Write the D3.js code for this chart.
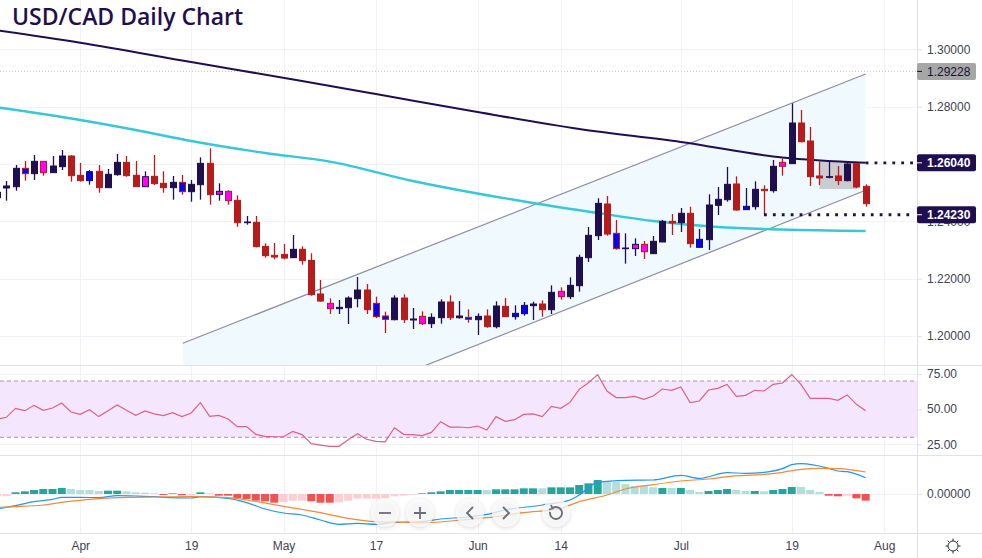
<!DOCTYPE html>
<html>
<head>
<meta charset="utf-8">
<script src="https://d3js.org/d3.v7.min.js"></script>
<style>
  body { margin: 0; background: #fff; overflow: hidden; }
  text { font-family: "Liberation Sans", sans-serif; }
</style>
</head>
<body>
<div id="chart"></div>
<script>
// candles are keyed by trading day, day 0 = 1 Apr
var firstDay = -9, lastDay = 85;

var opens = [1.24825,1.25162,1.25208,1.25848,1.25662,1.26092,1.25697,1.25906,1.26278,1.25604,1.25418,1.25743,1.25174,1.25627,1.26057,1.25604,1.25208,1.25569,1.25325,1.25174,1.25360,1.25034,1.25278,1.26022,1.24941,1.25046,1.24732,1.23953,1.23964,1.23127,1.22813,1.22848,1.22732,1.23023,1.22639,
  1.21465,1.21139,1.20953,1.20988,1.21302,1.21604,1.21139,1.20697,1.20569,1.21325,1.20558,1.20686,1.20430,1.20639,1.21186,1.20639,1.20651,1.20569,1.20697,1.20325,1.21034,1.20674,1.20779,1.21058,1.21116,1.20918,1.21558,1.21372,1.21755,1.22732,1.23499,1.24604,1.23581,1.23046,1.23046,1.23197,
  1.22872,1.23279,1.24000,1.23953,1.24279,1.23093,1.23360,1.24558,1.24755,1.25302,1.24407,1.24511,1.25116,1.25069,1.26058,1.26011,1.27429,1.26802,1.25581,1.25534,1.25581,1.25418,1.26011,1.25220];
var closes = [1.25011,1.25232,1.25848,1.25662,1.26092,1.25697,1.25929,1.26278,1.25592,1.25418,1.25732,1.25174,1.25639,1.26057,1.25592,1.25208,1.25557,1.25313,1.25174,1.25360,1.25034,1.25290,1.26022,1.24929,1.25046,1.24720,1.23953,1.23976,1.23116,1.22802,1.22755,1.22720,1.23023,1.22627,1.21441,
  1.21220,1.20953,1.20999,1.21325,1.21604,1.20918,1.20674,1.20581,1.21325,1.20569,1.20593,1.20430,1.20651,1.21186,1.20639,1.20697,1.20581,1.20686,1.20325,1.21046,1.20674,1.20790,1.21069,1.21116,1.20918,1.21523,1.21372,1.21767,1.22744,1.23511,1.24627,1.23557,1.23046,1.23069,1.23197,1.22941,
  1.23302,1.24000,1.23941,1.24279,1.23221,1.23372,1.24569,1.24767,1.25290,1.24395,1.24523,1.25116,1.25069,1.25918,1.25918,1.27429,1.26778,1.25558,1.25511,1.25558,1.25418,1.25999,1.25197,1.24616];
var highs = [1.25034,1.25406,1.25964,1.26104,1.26313,1.26104,1.26278,1.26487,1.26313,1.26034,1.25790,1.25964,1.25825,1.26348,1.26278,1.26104,1.25743,1.26313,1.25743,1.25580,1.25615,1.25441,1.26232,1.26546,1.25325,1.25081,1.24906,1.24185,1.24185,1.23232,1.23243,1.23209,1.23522,1.23127,1.22883,
  1.21953,1.21313,1.21255,1.21383,1.22058,1.21813,1.21372,1.20848,1.21418,1.21453,1.20976,1.20860,1.20790,1.21279,1.21418,1.21221,1.20930,1.20790,1.20930,1.21209,1.21325,1.21069,1.21186,1.21197,1.21244,1.21767,1.21697,1.22046,1.22837,1.23802,1.24802,1.24883,1.24046,1.23581,1.23406,1.23313,
  1.23488,1.24046,1.24255,1.24465,1.24511,1.23732,1.24941,1.25197,1.25895,1.25569,1.25162,1.25395,1.25255,1.26139,1.26220,1.28115,1.27883,1.27290,1.26081,1.26081,1.25930,1.26023,1.26023,1.25290];
var lows = [1.24801,1.24720,1.25069,1.25418,1.25441,1.25592,1.25697,1.25790,1.25383,1.25383,1.25278,1.24999,1.25162,1.25592,1.25557,1.25208,1.25208,1.25267,1.24999,1.24755,1.24929,1.24685,1.24755,1.24581,1.24720,1.24581,1.23813,1.23883,1.23092,1.22732,1.22674,1.22674,1.22720,1.22488,1.21406,
  1.21197,1.20767,1.20767,1.20418,1.20999,1.20767,1.20627,1.20104,1.20546,1.20453,1.20244,1.20383,1.20279,1.20430,1.20558,1.20604,1.20465,1.20034,1.20290,1.20267,1.20662,1.20569,1.20709,1.20558,1.20674,1.20767,1.21267,1.21290,1.21546,1.22581,1.23348,1.23499,1.23011,1.22523,1.22790,1.22685,
  1.22860,1.23279,1.23523,1.23627,1.23081,1.23081,1.23000,1.24220,1.24686,1.24372,1.24395,1.24407,1.24230,1.24999,1.25592,1.25999,1.26755,1.25232,1.25267,1.25499,1.25267,1.25395,1.25151,1.24511];
var blueDays = [-6,1,11,32,33,42,47,48,58,67,72];
var magentaDays = [-4,7,15,16,27,37,52,60,61,76];

// moving averages, read at these days only
var ma200Days = [-10,0,12,24,32,43,54,65,76,85];
var ma200 = [1.30708,1.30230,1.29557,1.28894,1.28441,1.27813,1.27220,1.26767,1.26226,1.26040];
var ma100Days = [-10,0,6,12,20,27,36,49,56,62,69,76,85];
var ma100 = [1.28022,1.27534,1.27185,1.26802,1.26383,1.26080,1.25407,1.24639,1.24290,1.24011,1.23802,1.23715,1.23662];

// channel, day then price of both ends
var channelDays = [11.1,85];
var channelUpper = [1.19745,1.29138];
var channelLower = [1.15605,1.25082];

var zoneDays = [80,84];
var zonePrices = [1.26104,1.25127];

var rsi = [42.8,44.2,50.6,48.9,52.7,49.2,50.8,54.4,48.0,46.3,49.6,44.7,48.9,53.0,49.2,45.6,48.7,46.6,45.4,47.5,44.7,47.3,54.6,44.9,45.6,43.0,37.6,37.6,32.1,30.7,30.4,30.4,34.2,31.9,25.5,24.5,23.6,23.6,28.3,32.6,28.6,27.1,26.7,36.8,32.1,31.9,31.2,33.5,41.1,37.3,37.3,36.8,38.0,35.2,
  44.7,41.3,42.5,46.3,46.6,44.7,52.0,50.6,54.8,64.1,68.8,74.5,62.9,58.2,58.2,59.1,57.0,59.3,64.3,63.4,65.7,54.6,55.8,63.6,64.8,67.6,59.1,59.8,63.4,62.9,67.6,68.6,74.5,67.6,57.7,57.7,57.7,56.3,60.1,53.4,48.9];

var histValues = [-.00067,-.00067,.00056,.00089,.00133,.00167,.00167,.002,.00167,.00133,.00133,.001,.00111,.00111,.00089,.00056,.00044,.00022,-.00033,.00022,-.00044,-.00033,.00056,.00022,-.00056,-.00056,-.00133,-.00167,-.00222,-.00244,-.00289,-.00267,-.00222,-.00222,-.00244,-.00289,-.00289,-.00278,-.00222,-.00156,-.00156,-.00156,-.00133,-.00078,-.00056,-.00022,.00022,.00056,.00089,.00133,.00133,.00133,.00133,.00133,
  .00156,.00156,.00156,.00189,.00189,.00189,.00222,.00222,.00222,.003,.00356,.00467,.00422,.004,.00333,.00267,.00267,.00222,.002,.002,.002,.00133,.00067,.001,.00133,.00167,.00133,.001,.001,.00089,.00133,.00167,.00233,.00233,.00133,.00067,-.00056,-.00078,-.00056,-.00144,-.00222];
// d dark teal, l light teal, r red, p pale red
var histShades = "ppddddddllllddllllrdrpdlrrrrrrrppprrrpppppppppdddddddl" +
  "dddddldddddd" + "llllll" + "dldll" + "dddll" + "dlddd" + "lll" + "rrprr";

var macdDays = [-9,-7,-5,-3,-2,0,2,4,6,8,9,12,13,16,18,20,22,24,26,28,30,32,34,37,39,42,44,46,50,53,54,56,59,62,65,67,70,72,74,76,77,78,81,82,83,85];
var macdLine = [-.005,-.00389,-.00256,-.00178,-.00111,-.00111,-.00122,-.00056,-.00067,-.00089,-.00111,-.00133,-.00089,-.00144,-.00289,-.005,-.00633,-.007,-.00867,-.01011,-.00978,-.01011,-.00944,-.00922,-.00833,-.00767,-.00678,-.00533,-.00367,-.002,-.00033,.00389,.00456,.00467,.00622,.00522,.00711,.00689,.00722,.00844,.00978,.01011,.00856,.00767,.00744,.00544];
var signalDays = [-9,-7,-4,-2,0,2,4,8,12,16,18,22,26,29,32,35,37,42,44,48,52,54,57,59,62,65,68,70,74,76,78,80,82,85];
var signalLine = [-.00444,-.00422,-.00367,-.00278,-.00211,-.00156,-.00122,-.001,-.00089,-.00122,-.002,-.00411,-.00622,-.00811,-.00922,-.00944,-.00956,-.00844,-.00789,-.00622,-.00478,-.00256,-.00033,.00167,.00311,.00433,.005,.00578,.00656,.00722,.00822,.00856,.00844,.00733];

var dateTicks = [0,12,22,32,43,52,65,77,87];
var dateLabels = ["Apr","19","May","17","Jun","14","Jul","19","Aug"];
var priceTicks = [1.20,1.22,1.24,1.26,1.28,1.30];
var rsiTicks = [25,50,75];
var rsiBand = [70,30];
var levelPrices = [1.29228,1.26040,1.24230];

var width = 982, height = 558;
var paneRight = 917, mainBottom = 365, rsiBottom = 455, macdBottom = 533;
var navy = "#1f0f4f", red = "#b71c1c", gridColor = "#f0f2f7", lineColor = "#dfe2ea";

var days = d3.range(firstDay, lastDay + 1);

var svg = d3.select("#chart").append("svg")
  .attr("width", width)
  .attr("height", height);

var x = d3.scaleLinear().domain([0,91]).range([80.25,921.09]);
var y = d3.scaleLinear().domain([1.20,1.30]).range([336,49.3]);
var yRsi = d3.scaleLinear().domain([30,70]).range([437.3,381]);
var yMacd = d3.scaleLinear().domain([-.013,.013]).range([533,455]);

var clipMain = svg.append("clipPath").attr("id","clipMain");
clipMain.append("rect").attr("width",paneRight).attr("height",mainBottom);

// grid
var grid = svg.append("g").attr("stroke",gridColor).attr("stroke-width",1);
grid.selectAll("line.v")
  .data(dateTicks)
  .enter().append("line")
    .attr("class","v")
    .attr("x1",function(d){ return Math.round(x(d)) + 0.5 })
    .attr("x2",function(d){ return Math.round(x(d)) + 0.5 })
    .attr("y1",0)
    .attr("y2",macdBottom);
grid.selectAll("line.h")
  .data(priceTicks.map(y).concat(rsiTicks.map(yRsi),[yMacd(0)]))
  .enter().append("line")
    .attr("class","h")
    .attr("x1",0)
    .attr("x2",paneRight)
    .attr("y1",function(d){ return Math.round(d) + 0.5 })
    .attr("y2",function(d){ return Math.round(d) + 0.5 });

// main pane
var main = svg.append("g").attr("clip-path","url(#clipMain)");

// channel
var chanArea = d3.area()
  .x(function(d,i){ return x(channelDays[i]) })
  .y0(function(d,i){ return y(channelLower[i]) })
  .y1(function(d,i){ return y(channelUpper[i]) });
main.append("path")
  .datum(channelDays)
  .attr("fill","#f0f9fd")
  .attr("d",chanArea);
[channelUpper,channelLower].forEach(function(c){
  main.append("path")
    .datum(c)
    .attr("fill","none")
    .attr("stroke","#8d8ca6")
    .attr("stroke-width",1.2)
    .attr("d",d3.line()
      .x(function(d,i){ return x(channelDays[i]) })
      .y(function(d){ return y(d) }));
});

main.append("rect")
  .attr("x",x(zoneDays[0]))
  .attr("y",y(zonePrices[0]))
  .attr("width",x(zoneDays[1]) - x(zoneDays[0]))
  .attr("height",y(zonePrices[1]) - y(zonePrices[0]))
  .attr("fill","#cbccd2");

// level line at the top
main.append("line")
  .attr("x1",0)
  .attr("x2",paneRight)
  .attr("y1",y(levelPrices[0]))
  .attr("y2",y(levelPrices[0]))
  .attr("stroke","#c4c4c8")
  .attr("stroke-dasharray","1 2");

function maPath(sel, dayList, values, color, w){
  sel.append("path")
    .datum(values)
    .attr("fill","none")
    .attr("stroke",color)
    .attr("stroke-width",w)
    .attr("d",d3.line()
      .x(function(d,i){ return x(dayList[i]) })
      .y(function(d){ return y(d) })
      .curve(d3.curveMonotoneX));
}
maPath(main,ma100Days,ma100,"#37c8d5",2.4);
maPath(main,ma200Days,ma200,navy,2);

// candles
function candleColor(i){ return closes[i] >= opens[i] ? navy : red }
function candleFill(d,i){
  if(blueDays.indexOf(d) >= 0) return "#0000ff";
  if(magentaDays.indexOf(d) >= 0) return "#ff00ff";
  return candleColor(i);
}
var candles = main.append("g");
candles.selectAll("line")
  .data(days)
  .enter().append("line")
    .attr("x1",function(d){ return Math.round(x(d)) + 0.5 })
    .attr("x2",function(d){ return Math.round(x(d)) + 0.5 })
    .attr("y1",function(d,i){ return y(highs[i]) })
    .attr("y2",function(d,i){ return y(lows[i]) })
    .attr("stroke",function(d,i){ return candleColor(i) })
    .attr("stroke-width",1.3);
candles.selectAll("rect")
  .data(days)
  .enter().append("rect")
    .attr("x",function(d){ return Math.round(x(d)) - 2.5 })
    .attr("width",6)
    .attr("y",function(d,i){ return y(Math.max(opens[i],closes[i])) })
    .attr("height",function(d,i){ return Math.max(0.3, Math.abs(y(opens[i]) - y(closes[i]))) })
    .attr("fill",candleFill)
    .attr("stroke",function(d,i){ return candleColor(i) })
    .attr("stroke-width",1);

// dotted support and resistance lines
[[lastDay,levelPrices[1]],[74,levelPrices[2]]].forEach(function(l){
  main.append("line")
    .attr("x1",x(l[0]))
    .attr("x2",914)
    .attr("y1",y(l[1]))
    .attr("y2",y(l[1]))
    .attr("stroke",navy)
    .attr("stroke-width",2.8)
    .attr("stroke-dasharray","2.8 6.1");
});

// rsi pane
svg.append("rect")
  .attr("x",0)
  .attr("width",paneRight)
  .attr("y",yRsi(rsiBand[0]))
  .attr("height",yRsi(rsiBand[1]) - yRsi(rsiBand[0]))
  .attr("fill","#f3e4fd")
  .attr("fill-opacity",0.9);
rsiBand.forEach(function(b){
  svg.append("line")
    .attr("x1",0)
    .attr("x2",paneRight)
    .attr("y1",yRsi(b))
    .attr("y2",yRsi(b))
    .attr("stroke","#a897ad")
    .attr("stroke-dasharray","4 3");
});
svg.append("path")
  .datum(rsi)
  .attr("fill","none")
  .attr("stroke","#e0607f")
  .attr("stroke-width",1.2)
  .attr("d",d3.line()
    .x(function(d,i){ return x(days[i]) })
    .y(function(d){ return yRsi(d) }));

// macd pane
var shadeColors = {d:"#26a69a", l:"#b2dfdb", r:"#ef5350", p:"#ffcdd2"};
svg.append("g").selectAll("rect")
  .data(histValues)
  .enter().append("rect")
    .attr("x",function(d,i){ return x(days[i]) - 4 })
    .attr("width",8)
    .attr("y",function(d){ return yMacd(Math.max(d,0)) })
    .attr("height",function(d){ return Math.abs(yMacd(d) - yMacd(0)) })
    .attr("fill",function(d,i){ return shadeColors[histShades[i]] });
function macdPath(dayList, values, color){
  svg.append("path")
    .datum(values)
    .attr("fill","none")
    .attr("stroke",color)
    .attr("stroke-width",1.2)
    .attr("d",d3.line()
      .x(function(d,i){ return x(dayList[i]) })
      .y(function(d){ return yMacd(d) })
      .curve(d3.curveMonotoneX));
}
macdPath(macdDays,macdLine,"#2196f3");
macdPath(signalDays,signalLine,"#f2893d");

// pane borders
var borders = svg.append("g").attr("stroke",lineColor).attr("stroke-width",1);
[mainBottom,rsiBottom,macdBottom].forEach(function(b){
  borders.append("line")
    .attr("x1",0).attr("x2",width)
    .attr("y1",b + 0.5).attr("y2",b + 0.5);
});
borders.append("line")
  .attr("x1",paneRight + 0.5).attr("x2",paneRight + 0.5)
  .attr("y1",0).attr("y2",height);

// axes
function styleAxis(g){
  g.select(".domain").remove();
  g.selectAll("line").attr("stroke",lineColor);
  g.selectAll("text")
    .attr("fill","#3f4350")
    .style("font-size","12px")
    .style("font-family","\"Liberation Sans\", sans-serif");
}
svg.append("g")
  .attr("transform","translate(" + paneRight + ",0)")
  .call(d3.axisRight(y).tickValues(priceTicks).tickFormat(d3.format(".5f")).tickSize(5).tickPadding(5))
  .call(styleAxis);
svg.append("g")
  .attr("transform","translate(" + paneRight + ",0)")
  .call(d3.axisRight(yRsi).tickValues(rsiTicks).tickFormat(d3.format(".2f")).tickSize(5).tickPadding(5))
  .call(styleAxis);
svg.append("g")
  .attr("transform","translate(" + paneRight + ",0)")
  .call(d3.axisRight(yMacd).tickValues([0]).tickFormat(d3.format(".5f")).tickSize(5).tickPadding(5))
  .call(styleAxis);
svg.append("g")
  .attr("transform","translate(0," + macdBottom + ")")
  .call(d3.axisBottom(x).tickValues(dateTicks).tickFormat(function(d,i){ return dateLabels[i] }).tickSize(0).tickPadding(8))
  .call(styleAxis);

// price tags
var tagFills = ["#a6a6a6",navy,navy];
var tagText = ["#17132e","#fff","#fff"];
levelPrices.forEach(function(p,i){
  var g = svg.append("g").attr("transform","translate(" + paneRight + "," + y(p) + ")");
  g.append("rect")
    .attr("y",-8.5)
    .attr("width",59)
    .attr("height",17)
    .attr("rx",2)
    .attr("fill",tagFills[i]);
  g.append("line")
    .attr("x1",0).attr("x2",5)
    .attr("stroke",tagText[i]);
  g.append("text")
    .attr("x",10)
    .attr("dy","0.36em")
    .attr("fill",tagText[i])
    .style("font-size","12px")
    .style("font-weight",i ? 700 : 400)
    .text(d3.format(".5f")(p));
});

// title
svg.append("text")
  .attr("x",12)
  .attr("y",25)
  .attr("fill",navy)
  .style("font-family","\"Open Sans\", sans-serif")
  .style("font-size","23px")
  .style("font-weight",600)
  .text("USD/CAD Daily Chart");

// chart navigation buttons
var navButtons = [[385,"minus"],[420,"plus"],[470,"left"],[506,"right"],[556,"reset"]];
navButtons.forEach(function(b){
  var g = svg.append("g").attr("transform","translate(" + b[0] + ",513)");
  g.append("circle")
    .attr("r",14)
    .attr("fill","#fff")
    .attr("fill-opacity",0.75)
    .style("filter","drop-shadow(0 1px 2px rgba(0,0,0,0.2))");
  var icon = g.append("path")
    .attr("fill","none")
    .attr("stroke","#6a6d78")
    .attr("stroke-width",1.8);
  if(b[1] == "minus") icon.attr("d","M-6,0H6");
  if(b[1] == "plus") icon.attr("d","M-6,0H6M0,-6V6");
  if(b[1] == "left") icon.attr("d","M3,-6L-3,0L3,6");
  if(b[1] == "right") icon.attr("d","M-3,-6L3,0L-3,6");
  if(b[1] == "reset") {
    icon.attr("d",d3.arc()({innerRadius:6,outerRadius:6,startAngle:-0.6,endAngle:4.9}));
    g.append("path").attr("fill","none").attr("stroke","#6a6d78").attr("stroke-width",1.8).attr("d","M-5,-8L-3.5,-4.5L-7,-3.5");
  }
});

// settings icon
var gear = svg.append("g")
  .attr("transform","translate(953,546)")
  .attr("stroke","#2a2e39")
  .attr("fill","none");
gear.append("circle").attr("r",5);
d3.range(8).forEach(function(k){
  var a = k * Math.PI / 4;
  gear.append("line")
    .attr("x1",5 * Math.cos(a)).attr("y1",5 * Math.sin(a))
    .attr("x2",7.5 * Math.cos(a)).attr("y2",7.5 * Math.sin(a));
});
</script>
</body>
</html>
